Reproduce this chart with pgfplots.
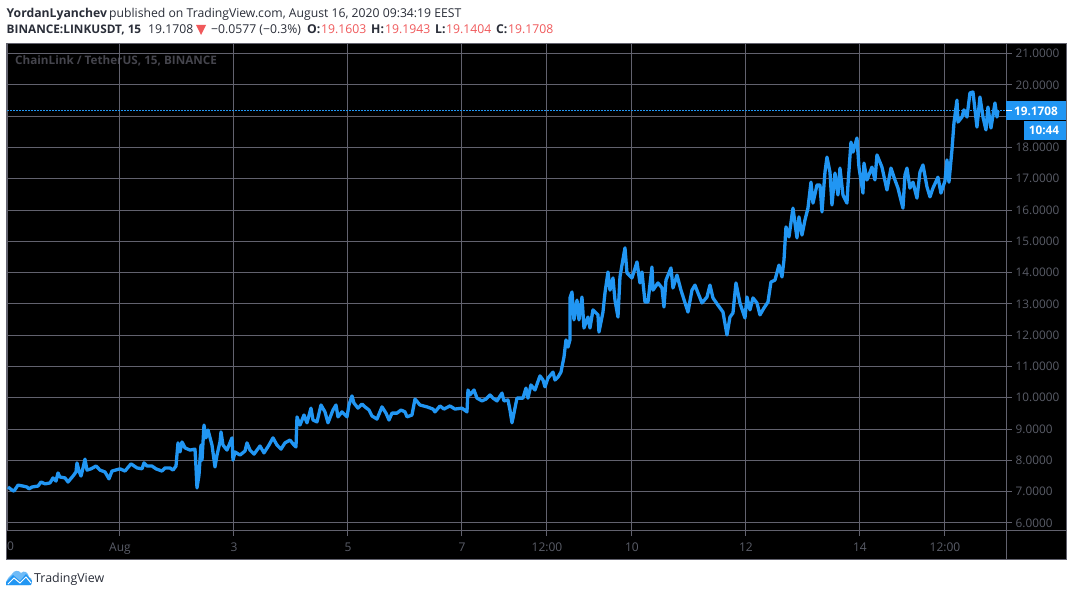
\documentclass[border=0pt]{standalone}
\usepackage{fontspec}
\setmainfont{Open Sans}
\usepackage{pgfplots}
\pgfplotsset{compat=1.18}
\usepackage{pgfplotstable}
\definecolor{gridc}{HTML}{62626E}
\definecolor{labc}{HTML}{5A5D68}
\definecolor{blu}{HTML}{2196F3}
\definecolor{redv}{HTML}{F0595B}
\definecolor{txt}{HTML}{2A2E39}
\pgfplotstableread{
x y
8 7.15
12 7.05
14 7.02
18 7.21
23 7.18
27 7.15
29 7.09
32 7.15
38 7.18
41 7.31
45 7.25
50 7.28
53 7.44
56 7.34
58 7.60
60 7.47
65 7.44
68 7.31
73 7.50
76 7.63
77 7.92
79 7.66
81 7.50
83 7.76
85 8.04
87 7.69
91 7.73
96 7.82
100 7.69
105 7.63
109 7.41
112 7.66
120 7.73
125 7.66
131 7.89
137 7.76
142 7.73
144 7.92
147 7.82
152 7.82
156 7.73
162 7.66
165 7.76
170 7.76
173 7.69
176 7.82
178 8.56
180 8.27
182 8.59
185 8.40
190 8.33
195 8.36
196 7.79
197 7.12
199 7.53
201 8.49
202 8.01
204 9.13
206 8.72
208 8.97
212 8.49
215 7.79
217 8.17
220 8.59
221 8.91
223 8.49
227 8.33
232 8.72
233 8.01
235 8.27
240 8.17
245 8.30
247 8.56
250 8.33
254 8.20
260 8.46
264 8.24
269 8.49
273 8.72
277 8.49
281 8.36
285 8.56
290 8.65
294 8.49
296 8.43
297 9.39
300 9.13
304 9.45
307 9.20
311 9.67
313 9.29
317 9.23
321 9.77
325 9.55
328 9.20
333 9.61
336 9.77
338 9.39
342 9.55
347 9.39
349 9.77
352 10.06
354 9.83
358 9.67
362 9.80
365 9.71
369 9.61
372 9.42
377 9.32
382 9.71
386 9.51
389 9.29
392 9.51
397 9.51
401 9.61
405 9.55
407 9.39
412 9.45
415 9.96
420 9.77
427 9.71
433 9.64
435 9.55
440 9.74
444 9.64
450 9.74
455 9.64
462 9.67
467 9.55
468 10.25
470 10.09
474 10.25
477 9.99
482 9.90
486 9.96
490 10.09
493 9.99
497 9.90
502 10.15
504 9.90
508 9.93
510 9.61
512 9.20
515 9.67
517 9.99
523 9.99
526 10.31
528 9.99
531 10.41
535 10.25
540 10.70
543 10.57
545 10.35
548 10.63
553 10.82
555 10.57
558 10.66
561 10.82
564 11.30
566 11.85
568 11.62
570 11.85
570 13.19
572 13.38
574 12.49
577 13.12
579 12.49
582 13.22
584 12.23
588 12.58
590 12.23
593 12.81
598 12.65
599 12.10
603 12.74
605 13.35
608 14.02
610 13.44
613 13.83
615 13.12
618 12.58
620 13.86
622 14.24
625 14.79
627 13.99
632 13.83
637 14.34
640 13.67
642 14.02
645 13.06
648 13.06
652 14.18
653 13.44
658 13.67
662 13.51
664 12.90
666 13.76
671 14.15
673 13.51
677 13.92
681 13.44
688 12.74
692 13.44
695 13.60
698 13.35
702 13.03
707 13.22
710 13.60
713 13.19
718 12.96
723 12.74
727 12.01
730 12.58
733 12.71
736 13.67
740 13.03
745 12.55
747 13.22
750 12.81
753 13.19
757 13.03
760 12.65
764 12.87
768 13.06
771 13.70
775 13.76
779 14.24
782 13.86
784 14.40
786 15.46
789 15.14
793 16.06
797 15.11
799 15.78
802 15.20
805 15.68
808 16.06
811 16.89
813 16.22
817 16.80
820 16.80
822 15.94
825 17.21
827 17.69
830 17.21
832 16.16
835 17.18
838 16.48
840 17.34
843 16.48
847 16.22
848 16.80
851 18.17
853 17.85
857 18.30
859 17.37
863 16.54
864 17.50
867 16.96
872 17.37
875 16.96
877 17.76
882 17.37
887 16.64
891 17.34
895 16.96
898 16.70
903 16.06
905 17.12
907 17.34
910 16.70
913 16.89
917 16.38
920 17.21
923 17.44
927 16.74
930 16.42
933 16.70
938 17.05
941 16.54
945 16.93
947 17.60
949 16.89
952 17.92
954 18.78
957 19.51
958 18.81
962 18.97
964 19.20
967 18.97
970 19.74
973 19.77
977 18.65
980 19.61
983 18.97
986 18.56
988 19.29
991 18.62
995 19.42
997 18.97
998 19.17
}\pricetable
\newcommand{\fs}[1]{\fontsize{#1bp}{#1bp}\selectfont}
\begin{document}
\begin{tikzpicture}[x=1bp,y=-1bp]
\path[use as bounding box,fill=white] (0,0) rectangle (1073,596);
\fill[black] (6,43.5) rectangle (1066,559);
\node[anchor=base west,inner sep=0,text=gridc!70!black,font=\fs{11.7}\bfseries] at (15,65) {ChainLink / TetherUS, 15, BINANCE};
\begin{axis}[
  at={(7bp,-530.5bp)},anchor=south west,scale only axis,
  width=999.5bp,height=486.5bp,
  xmin=7,xmax=1006.5,ymin=5.76,ymax=21.304,
  axis line style={gridc,line width=1bp},
  grid=major,grid style={gridc,line width=1bp},
  tick style={gridc,line width=1bp},
  tick align=outside,major tick length=5.5bp,
  xtick pos=bottom,ytick pos=right,yticklabel pos=right,
  xtick={120,234,348,462,547,632,746,860,945},
  xticklabels={Aug,3,5,7,12:00,10,12,14,12:00},
  ytick={6,7,...,21},
  yticklabels={6.0000,7.0000,8.0000,9.0000,10.0000,11.0000,12.0000,13.0000,14.0000,15.0000,16.0000,17.0000,18.0000,,20.0000,21.0000},
  xticklabel style={text=labc,font=\fs{12},anchor=base,yshift=-15bp,inner sep=0},
  yticklabel style={text=labc,font=\fs{11.8},anchor=west,xshift=3.5bp,inner sep=0},
  clip=true,
]
\addplot[blu,line width=1bp,dash pattern=on 1.5bp off 1.5bp] coordinates {(7,19.1708)(1006.5,19.1708)};
\addplot[blu,line width=3.3bp,line join=round] table[x=x,y=y] {\pricetable};
\end{axis}
% clipped first label
\begin{scope}
\clip (7,535) rectangle (60,558);
\node[anchor=base,inner sep=0,text=labc,font=\fs{12}] at (7,550) {30};
\end{scope}
% right labels
\draw[gridc,line width=1bp] (6,43.5) rectangle (1066,559);
\draw[gridc,line width=1bp] (1006.5,530) -- (1006.5,559);
\draw[gridc,line width=1bp] (1006.5,530.5) -- (1066,530.5);
\fill[blu] (1006,101) rectangle (1066,120);
\fill[blu] (1024,121) rectangle (1066,140);
\draw[white,line width=1bp] (1006,110.5) -- (1012,110.5);
\node[text=white,inner sep=0,font=\fs{11.8}\bfseries] at (1036,111) {19.1708};
\node[text=white,inner sep=0,font=\fs{11.8}\bfseries] at (1044,130.5) {10:44};
% header
\node[anchor=base west,inner sep=0,text=txt,font=\fs{12.2}\bfseries] at (6.5,17.5) {YordanLyanchev};
\node[anchor=base west,inner sep=0,text=txt,font=\fs{12.2}] at (109,17.5) {published on TradingView.com, August 16, 2020 09:34:19 EEST};
\node[anchor=base west,inner sep=0,text=txt,font=\fs{11.8}\bfseries] at (6.5,34) {BINANCE:LINKUSDT, 15};
\node[anchor=base west,inner sep=0,text=txt,font=\fs{12.2}] at (148,34) {19.1708};
\fill[redv] (196,25) -- (206,25) -- (201,35) -- cycle;
\node[anchor=base west,inner sep=0,text=txt,font=\fs{12.2}] at (211,34) {−0.0577 (−0.3\%)};
\node[anchor=base west,inner sep=0,text=txt,font=\fs{12.2}\bfseries] at (307,34) {O:};
\node[anchor=base west,inner sep=0,text=redv,font=\fs{12.2}] at (321,34) {19.1603};
\node[anchor=base west,inner sep=0,text=txt,font=\fs{12.2}\bfseries] at (371,34) {H:};
\node[anchor=base west,inner sep=0,text=redv,font=\fs{12.2}] at (385,34) {19.1943};
\node[anchor=base west,inner sep=0,text=txt,font=\fs{12.2}\bfseries] at (435,34) {L:};
\node[anchor=base west,inner sep=0,text=redv,font=\fs{12.2}] at (446,34) {19.1404};
\node[anchor=base west,inner sep=0,text=txt,font=\fs{12.2}\bfseries] at (496,34) {C:};
\node[anchor=base west,inner sep=0,text=redv,font=\fs{12.2}] at (508,34) {19.1708};
% logo
\fill[blu!65!white] (6,585) .. controls (6,578) and (10,577) .. (12,574) .. controls (14,570) and (19,570) .. (21,573) .. controls (24,570) and (28,572) .. (29,577) .. controls (33,578) and (33,585) .. (29,585) -- cycle;
\fill[blu] (6,585) -- (6,582) -- (13,575) -- (20,581) -- (26,574) -- (32,581) -- (31,585) -- cycle;
\draw[white,line width=1bp] (8,584) -- (14,578) -- (20,583) -- (26,577) -- (31,583);
\node[anchor=base west,inner sep=0,text=txt,font=\fs{12.4}] at (34,582) {TradingView};
\end{tikzpicture}
\end{document}
